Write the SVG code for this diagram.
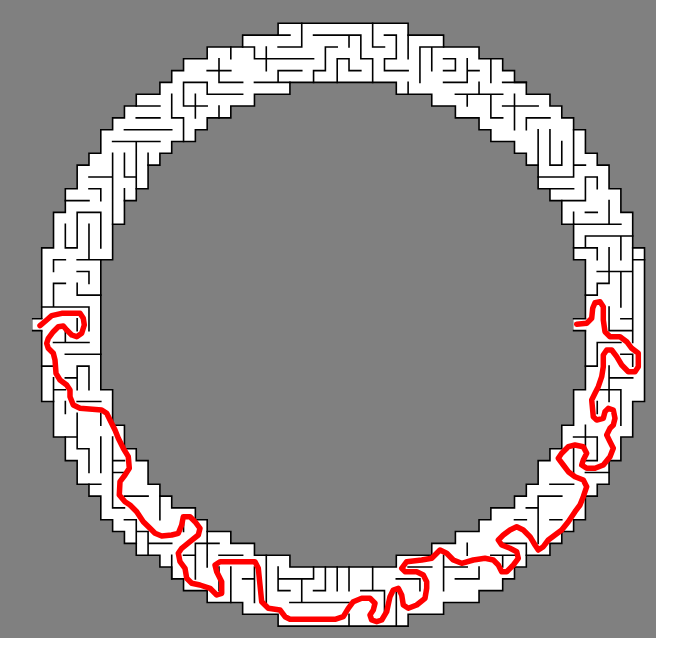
<svg xmlns="http://www.w3.org/2000/svg" width="673" height="645" viewBox="0 0 673 645">
<style>
.wall{fill:none;stroke:#000;stroke-width:1.6;stroke-linecap:square;vector-effect:non-scaling-stroke}
.ring{fill:#fff;fill-rule:evenodd;stroke:#000;stroke-width:1.6;vector-effect:non-scaling-stroke}
.sol{fill:none;stroke:#f00;stroke-width:5.5;stroke-linejoin:round;stroke-linecap:round}
</style>
<rect width="673" height="645" fill="#fff"/>
<rect x="0" y="0" width="656" height="638" fill="#808080"/>
<g id="maze" transform="translate(41.7 23.3) scale(11.82)">
<path class="ring" d="M20 0H31V1H34V2H37V3H39V4H40V5H41V6H43V7H44V8H45V9H46V11H47V12H48V14H49V16H50V19H51V32H50V35H49V37H48V39H47V40H46V42H45V43H44V44H43V45H41V46H40V47H39V48H37V49H34V50H31V51H20V50H17V49H14V48H12V47H11V46H10V45H8V44H7V43H6V42H5V40H4V39H3V37H2V35H1V32H0V19H1V16H2V14H3V12H4V11H5V9H6V8H7V7H8V6H10V5H11V4H12V3H14V2H17V1H20Z M21 5H30V6H33V7H35V8H37V9H38V10H40V11H41V12H42V14H43V15H44V17H45V20H46V31H45V34H44V36H43V37H42V39H41V40H40V41H38V42H37V43H35V44H33V45H30V46H21V45H18V44H16V43H14V42H13V41H11V40H10V39H9V37H8V36H7V34H6V31H5V20H6V17H7V15H8V14H9V12H10V11H11V10H13V9H14V8H16V7H18V6H21Z"/>
<rect x="-0.76" y="25" width="0.88" height="1" fill="#fff"/>
<rect x="45" y="25" width="1.12" height="1" fill="#fff"/>
<path class="wall" d="M-0.76 25H0M-0.76 26H0M45 25H46M45 26H46
M14 4H16M15 5H17M12 5H14M14 6H17M12 7H14M8 7H10M8 8H10M11 8H12M7 9H11M6 10H10M4 13H6M7 13H8M2 15H4M3 16H5M4 14H5
M16 2V3M15 3V5M14 5V6M12 5V7M13 6V8M15 7V8M11 6V8M12 8V10M8 10V14M9 11V12M7 11V13M6 11V17M5 14V15M3 16V17M5 16V17M7 14V15
M2 19H3M1 20H2M3 20H5M3 21H4M1 22H2M3 23H5M0 24H4M1 27H4M2 28H5M0 29H1M3 29H4M2 30H3M1 31H2M3 32H5
M2 17V19M3 17V19M4 17V20M5 17V19M1 20V21M4 21V22M3 22V23M1 22V24M4 24V26M3 25V26M2 26V27M1 30V32M3 29V31M4 29V31M2 32V33M3 33V34M5 33V34
M6 37H7M6 38H7M7 40H9M6 41H7M13 44H15M15 45H17M12 45H13M7 42H8M8 43H9M9 44H11M3 36H4M4 39H5M2 35H3
M3 34V36M4 36V38M5 35V38M6 35V41M8 42V44M9 43V45M10 40V42M13 44V47M14 43V46M11 45V47M16 46V49M15 46V48M12 42V43
M20 47H23M20 48H21M23 48H24M21 49H26M27 48H29M30 47H32M31 46H33M17 47H18
M19 45V49M20 46V48M22 47V49M24 46V48M25 46V48M26 46V48M28 46V48M29 48V50M30 48V51M32 47V48M18 46V49M23 46V47M26 50V51
M35 47H37M34 46H36M45 35H47M46 37H47M46 38H48M43 39H45M42 40H44M41 41H42M40 42H41M43 42H44M39 44H41M38 45H40
M46 34V36M45 36V38M47 35V37M42 40V44M41 44V45M39 45V46M36 44V45M34 45V48M37 46V47
M45 17H49M46 18H50M45 19H47M50 20H51M48 21H50M47 22H48M46 23H47M49 25H50M48 26H50M47 27H49M49 28H50M46 29H47M48 30H50M47 31H49M47 21H48
M48 16V17M46 18V19M47 19V20M48 19V22M49 18V20M49 21V24M47 22V23M48 24V26M50 19V27M50 28V29M47 27V29M48 29V32M49 31V34M47 32V33M45 16V17
M34 3H35M34 4H35M36 4H37M34 5H36M35 6H39M39 5H41M39 7H42M38 8H39M41 8H43M43 12H44M45 12H46M42 13H45M46 13H47M43 14H45M44 15H46M46 16H47
M35 3V4M36 3V5M37 5V6M38 3V5M36 6V7M40 6V9M38 6V8M41 8V9M42 9V12M43 9V12M44 10V12M45 9V13M46 13V15M45 16V17M48 15V17M47 13V14
M20 1H21M20 2H22M23 1H27M27 3H28M28 2H29M29 1H30M29 3H30M29 4H31M32 2H34M17 2H18M18 3H23M20 4H22M18 5H21M23 4H24M24 2H25M25 3H26M26 4H27
M22 0V2M27 1V3M26 1V2M28 0V2M28 3V5M30 1V3M29 3V4M31 1V3M32 2V5M33 2V4M31 5V6M18 2V3M19 2V4M20 4V5M24 2V4M25 3V5M26 3V4M23 4V5"/>
</g>
<polyline id="solution" class="sol" points="40,325.7 46.7,320 51.7,315.7 61.7,313.3 80,313.3 83.3,318.3 84.3,325 81.7,333.3 76.7,336.7 71.7,335 66.7,330 63.3,326 58.3,326.7 53.3,331.7 48.3,338.3 46.7,343.3 48.3,348.3 53.3,353.3 55,360 56,373.3 60,380 66.7,385 70,390 70,396.7 73.3,405 80,408.3 101.7,410 106.7,413.3 110,420 115,430 118.3,438.3 123.3,448.3 128.3,456.7 129.3,468.3 125,475 120,481.7 119.3,495 125,501.7 130,505 136.7,511.7 143.3,521.7 150,528.3 155,533.3 161.7,536 171.7,535 178.3,533.3 181.7,525 183.3,516.7 190,516.7 195,521.7 200,528.3 198.3,535 190,541.7 181.7,548.3 178.3,553.3 180,561.7 185,568.3 186.7,578.3 191.7,583.3 200,585 210,588.3 216.7,595 221.7,593.3 221.7,581.7 216.7,571.7 215,565 220,561.7 240,561.7 255,561.7 258.3,568.3 260,585 261.7,601.7 268.3,608.3 280,610 285,616.7 290,619.3 335,619.3 343.3,616.7 348.3,608.3 353.3,601.7 361.7,598.3 370,598.3 375,603.3 373.3,610 370,615 371.7,620 376.7,621.7 381.7,620 386.7,611.7 390,596.7 393.3,590 398.3,588.3 401.7,595 403.3,605 408.3,608.3 416.7,605 425,598.3 426.7,588.3 426.7,581.7 423.3,575 416.7,571.7 405,571.7 401.7,568.3 406.7,561.7 421.7,560 431.7,558.3 435,555 440,550 446.7,553.3 453.3,560 461.7,563.3 473.3,560 485,558.3 493.3,560 498.3,565 501.7,571.7 506.7,571.7 513.3,565 518.3,558.3 516.7,551.7 510,548.3 501.7,545 498.3,540 503.3,535 510,530 516.7,526.7 523.3,530 530,536.7 535,545 538.3,550 543.3,546.7 548.3,540 555,535 561.7,530 568.3,521.7 575,511.7 580,505 583.3,496.7 586.7,486.7 583.3,480 575,476.7 568.3,471.7 563.3,465 558.3,458.3 561.7,453.3 568.3,446.7 575,445 583.3,446.7 586.7,453.3 583.3,460 581.7,465 586.7,468.3 595,468.3 603.3,465 610,456.7 613.3,448.3 610,441.7 606.7,435 610,428.3 613.3,425 615,418.3 613.3,410 608.3,408.3 605,411.7 603.3,418.3 596.7,420 593.3,416.7 591.7,400 595,393.3 598.3,386.7 601.7,376.7 603.3,366.7 603.3,355 606.7,350 611.7,350 616.7,356.7 621.7,365 628.3,371.7 635,371.7 638.3,366.7 638.3,353.3 631.7,348.3 626.7,341.7 620,336.7 610,336.7 605,331.7 603.3,320 603.3,306.7 600,301.7 595,302.7 592.7,308.3 591.7,318.3 586.7,323.3 576.7,324.3"/>
</svg>
